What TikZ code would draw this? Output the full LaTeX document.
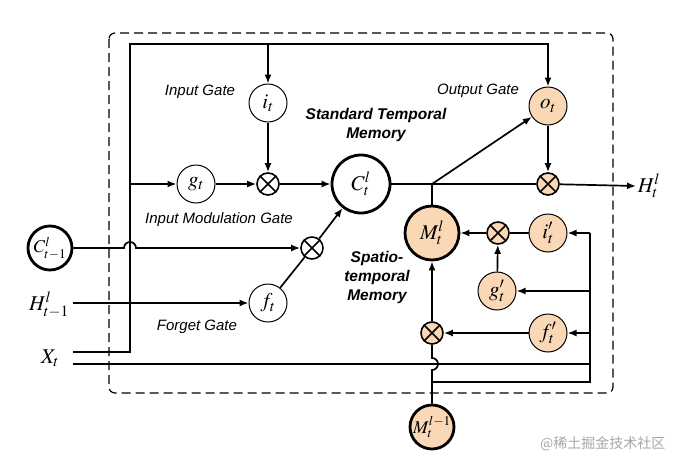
\documentclass[tikz,border=0pt]{standalone}
\usepackage{mathptmx}
\usepackage[no-math]{fontspec}
\setmainfont{Liberation Sans}
\newfontfamily\cjk{Noto Sans CJK SC}
\usetikzlibrary{arrows.meta}
\definecolor{peach}{RGB}{250,216,182}
\newcommand\mv[1]{{\fontsize{21}{24}\selectfont$#1$}}
\newcommand\mvs[1]{{\fontsize{18}{21}\selectfont$#1$}}
\begin{document}
\begin{tikzpicture}[x=1pt,y=1pt,
  line width=1.7pt,
  arr/.style={-{Latex[length=9pt,width=7pt]}},
  gate/.style={circle,draw,line width=1pt,minimum size=38pt,inner sep=0pt},
  mem/.style={circle,draw,line width=2.8pt,inner sep=0pt},
  mult/.style={circle,draw,line width=1.6pt,minimum size=22pt,inner sep=0pt},
  lbl/.style={font=\fontsize{15}{18}\selectfont\itshape},
  blbl/.style={font=\fontsize{15.5}{19}\selectfont\bfseries\itshape,align=center},
  orng/.style={fill=peach}]
\useasboundingbox (0,0) rectangle (679,-466);

% frame
\draw[line width=1.2pt,dash pattern=on 9pt off 5pt,rounded corners=6pt] (109,-33) rectangle (613,-393);

% nodes
\node[gate] (it) at (268,-103) {\mv{i_t}};
\node[gate] (gt) at (196,-184) {\mv{g_t}};
\node[mult] (m1) at (268,-184) {};
\node[mem,minimum size=58pt] (ct) at (361,-184) {\mv{C^l_t}};
\node[mem,minimum size=44pt] (c1) at (50,-248) {\mvs{C^l_{t-1}}};
\node[mult] (m2) at (312,-248) {};
\node[gate] (ft) at (268,-303) {\mv{f_t}};
\node[gate,orng] (ot) at (548,-106) {\mv{o_t}};
\node[mult,orng] (m3) at (548,-184) {};
\node[mem,orng,minimum size=54pt] (M) at (432,-233) {\mv{M^l_t}};
\node[mult,orng] (m4) at (498,-233) {};
\node[gate,orng] (ip) at (548,-233) {\mv{i'_t}};
\node[gate,orng] (gp) at (497,-291) {\mv{g'_t}};
\node[gate,orng] (fp) at (548,-333) {\mv{f'_t}};
\node[mult,orng] (m5) at (432,-333) {};
\node[mem,orng,minimum size=44pt] (Mp) at (432,-427) {\mvs{M^{l-1}_t}};

\node (ht1) at (49,-305) {\mv{H^l_{t-1}}};
\node (xt) at (50,-358) {\mv{X_t}};
\node[anchor=west,inner sep=1pt] (ht) at (636,-186) {\mv{H^l_t}};

% crosses
\foreach \n in {m1,m2,m3,m4,m5}{
  \draw (\n.north west) -- (\n.south east) (\n.north east) -- (\n.south west);
}

% labels
\node[lbl] (lig) at (200,-92) {Input Gate};
\node[lbl] (limg) at (219,-220) {Input Modulation Gate};
\node[lbl] (lfg) at (197,-327) {Forget Gate};
\node[lbl] (log) at (478,-91) {Output Gate};
\node[blbl] (lstm) at (376,-125) {Standard Temporal\\Memory};
\node[blbl] (lsm) at (377,-277) {Spatio-\\temporal\\Memory};
\node[text=black!35,font=\cjk\fontsize{14}{16}\selectfont,anchor=west] (wm) at (536,-444) {@稀土掘金技术社区};

% coordinates
\coordinate (xa) at (73,-352);
\coordinate (xb) at (73,-364);
\coordinate (ha) at (73,-303);
\coordinate (ca) at (124,-248);
\coordinate (j) at (432,-184);

% connectors (left part)
\draw[arr] (xa) -- (130,-352) -- (130,-44) -- (548,-44) -- (ot.north);
\draw[arr] (268,-44) -- (it.north);
\draw[arr] (it) -- (m1);
\draw[arr] (130,-184) -- (gt.west);
\draw[arr] (gt) -- (m1);
\draw[arr] (m1) -- (ct);
\draw[arr] (c1.east) -- (ca) arc[start angle=180,end angle=0,radius=6pt] -- (m2.west);
\draw[arr] (ha) -- (ft.west);
\draw (ft) -- (m2);
\draw[arr] (m2) -- (ct);

% output part
\draw (ct) -- (m3);
\draw[arr] (m3) -- (ht.west);
\draw[arr] (j) -- (ot);
\draw (j) -- (M.north);
\draw[arr] (ot) -- (m3);

% spatiotemporal part
\draw (ip) -- (m4);
\draw[arr] (m4) -- (M);
\draw[arr] (gp) -- (m4);
\draw[arr] (fp) -- (m5);
\draw[arr] (m5) -- (M);
\draw (Mp.north) -- (432,-370) arc[start angle=-90,end angle=90,radius=6pt] -- (m5.south);
\draw (432,-382) -- (590,-382) -- (590,-233);
\draw (xb) -- (590,-364);
\draw[arr] (590,-233) -- (ip.east);
\draw[arr] (590,-291) -- (gp.east);
\draw[arr] (590,-333) -- (fp.east);
\end{tikzpicture}
\end{document}
